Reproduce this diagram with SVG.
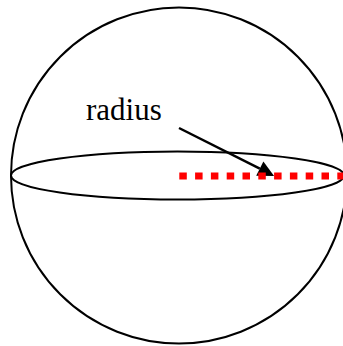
<svg xmlns="http://www.w3.org/2000/svg" width="343" height="346" viewBox="0 0 343 346">
<style>
.outline{fill:none;stroke:#000;stroke-width:2}
.lbl{font-family:"Liberation Serif","Times New Roman",serif;font-size:31px;fill:#000}
.rad{stroke:#ff0000;stroke-width:7;stroke-dasharray:7.5 8.3;fill:none}
.arr{stroke:#000;stroke-width:2.5;fill:none}
</style>
<defs>
<marker id="ah" markerUnits="userSpaceOnUse" markerWidth="18" markerHeight="18" refX="0" refY="8" orient="auto" overflow="visible">
<path d="M0,0 L16,8 L0,16 Z" fill="#000"/>
</marker>
</defs>
<rect width="343" height="346" fill="#fff"/>
<g id="sphere">
<circle class="outline" cx="179" cy="175.5" r="168"/>
</g>
<g id="equator">
<ellipse class="outline" cx="177.5" cy="175.5" rx="166.5" ry="24"/>
</g>
<g id="label">
<text class="lbl" x="86" y="120">radius</text>
</g>
<g id="connectors">
<line class="arr" x1="179" y1="128" x2="259.8" y2="168.7" marker-end="url(#ah)"/>
<line class="rad" x1="179.3" y1="176" x2="343" y2="176"/>
</g>
</svg>
